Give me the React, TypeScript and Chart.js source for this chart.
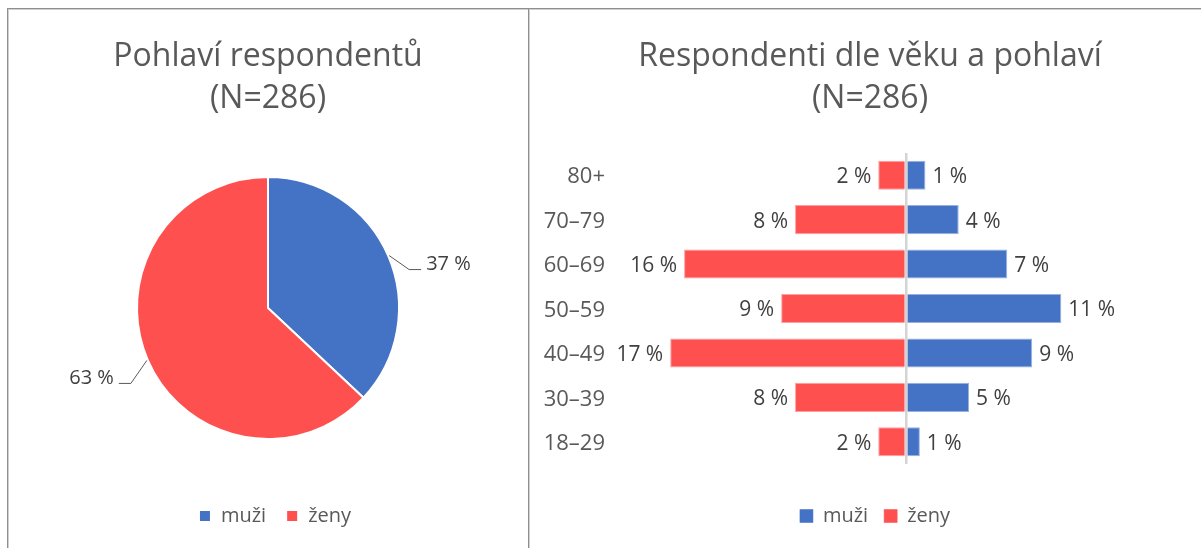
import React, { useEffect, useRef } from 'react';
import { Chart, registerables } from 'chart.js';

Chart.register(...registerables);

const FONT = "'Open Sans', 'Noto Sans', sans-serif";

const PIE_TITLE = ['Pohlaví respondentů', '(N=286)'];
const BAR_TITLE = ['Respondenti dle věku a pohlaví', '(N=286)'];
const GENDER_LABELS = ['muži', 'ženy'];
const GENDER_SHARE = [37, 63];
const AGE_GROUPS = ['80+', '70–79', '60–69', '50–59', '40–49', '30–39', '18–29'];
const MEN_SHARE = [1.4, 3.8, 7.3, 11.2, 9.1, 4.55, 1.0];
const WOMEN_SHARE = [2.0, 8.0, 16.0, 9.0, 17.0, 8.0, 2.0];

const BLUE = '#4472C4';
const RED = '#FF5050';
const TEXT = '#595959';
const LABEL = '#404040';

const shiftLegend = (dx: number) => ({
  id: 'shiftLegend',
  afterLayout(chart: any) {
    if (chart.legend) {
      chart.legend.left += dx;
      chart.legend.right += dx;
    }
  },
});

const pieLabelPlugin = {
  id: 'pieLabels',
  afterDatasetsDraw(chart: any) {
    const ctx = chart.ctx;
    const meta = chart.getDatasetMeta(0);
    const values = chart.data.datasets[0].data;
    meta.data.forEach((arc: any, i: number) => {
      const p = arc.getProps(['x', 'y', 'startAngle', 'endAngle', 'outerRadius'], true);
      const mid = (p.startAngle + p.endAngle) / 2;
      const ex = p.x + Math.cos(mid) * (p.outerRadius + 1);
      const ey = p.y + Math.sin(mid) * (p.outerRadius + 1);
      const right = Math.cos(mid) >= 0;
      const s = right ? 1 : -1;
      const elbowX = ex + s * (right ? 20 : 16);
      const elbowY = ey + (right ? 14 : 23);
      const endX = elbowX + s * 12;
      ctx.save();
      ctx.strokeStyle = '#595959';
      ctx.lineWidth = 1;
      ctx.beginPath();
      ctx.moveTo(ex, ey);
      ctx.lineTo(elbowX, elbowY);
      ctx.lineTo(endX, elbowY);
      ctx.stroke();
      ctx.fillStyle = LABEL;
      ctx.font = `20px ${FONT}`;
      ctx.textBaseline = 'middle';
      ctx.textAlign = right ? 'left' : 'right';
      ctx.fillText(`${Math.round(values[i])} %`, endX + s * 5, elbowY - 5);
      ctx.restore();
    });
  },
};

const barLabelPlugin = {
  id: 'barLabels',
  afterDatasetsDraw(chart: any) {
    const ctx = chart.ctx;
    chart.data.datasets.forEach((ds: any, di: number) => {
      const meta = chart.getDatasetMeta(di);
      meta.data.forEach((bar: any, i: number) => {
        const v = ds.data[i];
        const p = bar.getProps(['x', 'y'], true);
        const neg = v < 0;
        ctx.save();
        ctx.fillStyle = LABEL;
        ctx.font = `21px ${FONT}`;
        ctx.textBaseline = 'middle';
        ctx.textAlign = neg ? 'right' : 'left';
        ctx.fillText(`${Math.round(Math.abs(v))} %`, p.x + (neg ? -7 : 7), p.y + 2);
        ctx.restore();
      });
    });
  },
};

function PieChart() {
  const ref = useRef<HTMLCanvasElement>(null);
  useEffect(() => {
    if (!ref.current) return;
    const chart = new Chart(ref.current, {
      type: 'pie',
      data: {
        labels: GENDER_LABELS,
        datasets: [
          {
            data: GENDER_SHARE,
            backgroundColor: [BLUE, RED],
            borderColor: '#FFFFFF',
            borderWidth: 2,
          },
        ],
      },
      options: {
        animation: false,
        responsive: false,
        events: [],
        radius: 131,
        layout: { padding: { top: 0, bottom: 12, left: 0, right: 0 } },
        plugins: {
          title: {
            display: true,
            text: PIE_TITLE,
            color: TEXT,
            font: { family: FONT, size: 32, weight: 'normal', lineHeight: 42 / 32 },
            padding: { top: 26, bottom: 10 },
          },
          legend: {
            position: 'bottom',
            labels: {
              color: TEXT,
              font: { family: FONT, size: 20 },
              boxWidth: 12,
              boxHeight: 12,
              padding: 20,
            },
          },
          tooltip: { enabled: false },
        },
      } as any,
      plugins: [pieLabelPlugin, shiftLegend(7)],
    });
    return () => chart.destroy();
  }, []);
  return (
    <canvas
      ref={ref}
      width={518}
      height={538}
      style={{ position: 'absolute', left: 9, top: 10, width: 518, height: 538, display: 'block' }}
    />
  );
}

function BarChart() {
  const ref = useRef<HTMLCanvasElement>(null);
  useEffect(() => {
    if (!ref.current) return;
    const chart = new Chart(ref.current, {
      type: 'bar',
      data: {
        labels: AGE_GROUPS,
        datasets: [
          {
            label: 'muži',
            data: MEN_SHARE,
            backgroundColor: BLUE,
            borderColor: 'rgba(68,114,196,0.55)',
            borderWidth: 1,
            barPercentage: 0.655,
            categoryPercentage: 1,
          },
          {
            label: 'ženy',
            data: WOMEN_SHARE.map((v) => -v),
            backgroundColor: RED,
            borderColor: 'rgba(255,80,80,0.55)',
            borderWidth: 1,
            barPercentage: 0.655,
            categoryPercentage: 1,
          },
        ],
      },
      options: {
        indexAxis: 'y',
        animation: false,
        responsive: false,
        events: [],
        layout: { padding: { top: 0, bottom: 12, left: 9, right: 0 } },
        scales: {
          x: {
            type: 'linear',
            min: -20,
            max: 21.27,
            stacked: true,
            ticks: { display: false, stepSize: 10 },
            border: { display: false },
            grid: {
              drawTicks: false,
              color: (c: any) => (c.tick && c.tick.value === 0 ? '#D4D4D4' : 'rgba(0,0,0,0)'),
              lineWidth: 2.5,
              z: 1,
            },
            afterFit: (s: any) => {
              s.height = 26;
            },
          },
          y: {
            stacked: true,
            grid: { display: false, drawTicks: false },
            border: { display: false },
            ticks: { color: TEXT, font: { family: FONT, size: 22 }, padding: 23.6, labelOffset: 2 },
            afterFit: (s: any) => {
              s.width = 89.6;
            },
          },
        },
        plugins: {
          title: {
            display: true,
            text: BAR_TITLE,
            color: TEXT,
            font: { family: FONT, size: 32, weight: 'normal', lineHeight: 42 / 32 },
            padding: { top: 26, bottom: 33 },
          },
          legend: {
            position: 'bottom',
            labels: {
              color: TEXT,
              font: { family: FONT, size: 20 },
              boxWidth: 13,
              boxHeight: 13,
              padding: 16,
            },
          },
          tooltip: { enabled: false },
        },
      } as any,
      plugins: [barLabelPlugin, shiftLegend(5)],
    });
    return () => chart.destroy();
  }, []);
  return (
    <canvas
      ref={ref}
      width={671}
      height={538}
      style={{ position: 'absolute', left: 530, top: 10, width: 671, height: 538, display: 'block' }}
    />
  );
}

function Line(props: { left: number; top: number; width: number; height: number; color: string }) {
  return (
    <div
      style={{
        position: 'absolute',
        left: props.left,
        top: props.top,
        width: props.width,
        height: props.height,
        background: props.color,
      }}
    />
  );
}

export default function App() {
  return (
    <div
      style={{
        position: 'fixed',
        left: 0,
        top: 0,
        width: 1201,
        height: 548,
        overflow: 'hidden',
        background: '#FFFFFF',
      }}
    >
      <Line left={7} top={8} width={1194} height={1} color="#8F8F8F" />
      <Line left={8} top={9} width={1193} height={1} color="#D0D0D0" />
      <Line left={7} top={8} width={1} height={540} color="#8F8F8F" />
      <Line left={8} top={9} width={1} height={539} color="#D0D0D0" />
      <Line left={528} top={8} width={1} height={540} color="#8F8F8F" />
      <Line left={529} top={9} width={1} height={539} color="#D0D0D0" />
      <PieChart />
      <BarChart />
    </div>
  );
}
